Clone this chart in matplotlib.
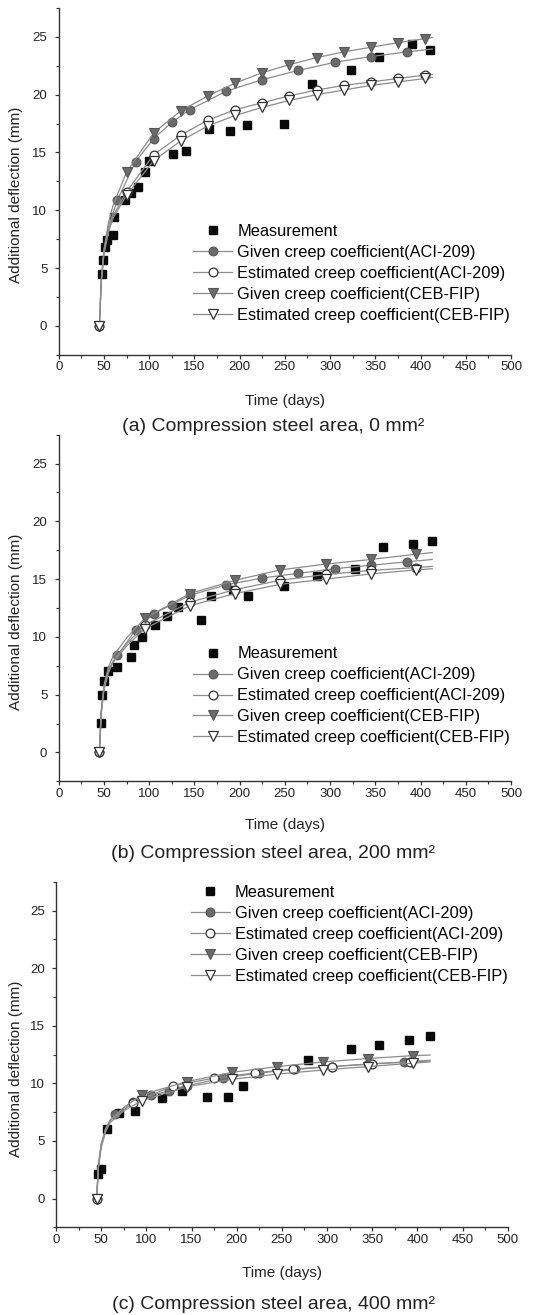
import matplotlib
matplotlib.use("Agg")
import matplotlib.pyplot as plt
from matplotlib.ticker import MultipleLocator

plt.rcParams['font.family'] = ['Liberation Sans', 'DejaVu Sans']

# ---------------- data ----------------
labels = ["Measurement",
          "Given creep coefficient(ACI-209)",
          "Estimated creep coefficient(ACI-209)",
          "Given creep coefficient(CEB-FIP)",
          "Estimated creep coefficient(CEB-FIP)"]
captions = ["(a) Compression steel area, 0 mm²",
            "(b) Compression steel area, 200 mm²",
            "(c) Compression steel area, 400 mm²"]
x_label = "Time (days)"
y_label = "Additional deflection (mm)"
x_ticks = [0, 50, 100, 150, 200, 250, 300, 350, 400, 450, 500]
y_ticks = [0, 5, 10, 15, 20, 25]

# Panel (a)
meas_a_x = [48, 49, 51, 53, 60, 61, 73, 80, 88, 95, 100, 126, 141, 166, 189, 208, 249, 280, 323, 354, 391, 411]
meas_a_y = [4.5, 5.7, 6.8, 7.4, 7.9, 9.4, 10.9, 11.5, 12.0, 13.3, 14.3, 14.9, 15.1, 17.0, 16.9, 17.4, 17.5, 20.9, 22.1, 23.3, 24.4, 23.9]
gaci_a_x = [45, 47, 50, 55, 65, 85, 105, 125, 145, 185, 225, 265, 305, 345, 385, 413]
gaci_a_y = [0, 3.8, 6.5, 8.6, 10.9, 14.2, 16.2, 17.6, 18.7, 20.3, 21.3, 22.1, 22.8, 23.3, 23.7, 23.95]
gaci_a_mk = [0, 4, 5, 6, 7, 8, 9, 10, 11, 12, 13, 14]
eaci_a_x = [45, 47, 50, 55, 60, 75, 105, 135, 165, 195, 225, 255, 285, 315, 345, 375, 405, 413]
eaci_a_y = [0, 3.8, 6.3, 8.3, 9.5, 11.6, 14.8, 16.5, 17.8, 18.7, 19.3, 19.9, 20.4, 20.8, 21.1, 21.4, 21.7, 21.75]
gceb_a_x = [45, 47, 50, 55, 60, 75, 105, 135, 165, 195, 225, 255, 285, 315, 345, 375, 405, 413]
gceb_a_y = [0, 4.0, 6.6, 8.9, 10.4, 13.3, 16.7, 18.6, 19.9, 21.0, 21.9, 22.6, 23.2, 23.7, 24.1, 24.5, 24.85, 24.95]
eceb_a_x = [45, 47, 50, 55, 60, 75, 105, 135, 165, 195, 225, 255, 285, 315, 345, 375, 405, 413]
eceb_a_y = [0, 3.7, 6.2, 8.1, 9.3, 11.3, 14.3, 16.0, 17.3, 18.2, 18.9, 19.5, 20.0, 20.4, 20.8, 21.1, 21.4, 21.5]
ceb_a_mk = [0, 5, 6, 7, 8, 9, 10, 11, 12, 13, 14, 15, 16]

# Panel (b)
meas_b_x = [47, 48, 50, 55, 65, 80, 83, 92, 106, 120, 132, 157, 168, 193, 209, 249, 285, 327, 358, 392, 413]
meas_b_y = [2.55, 5.0, 6.2, 7.05, 7.35, 8.3, 9.3, 9.95, 11.05, 11.8, 12.55, 11.5, 13.55, 14.1, 13.5, 14.4, 15.3, 15.9, 17.8, 18.05, 18.3]
gaci_b_x = [45, 47, 50, 55, 65, 85, 105, 125, 145, 185, 225, 265, 305, 345, 385, 413]
gaci_b_y = [0, 3.5, 5.6, 7.2, 8.4, 10.6, 12.0, 12.8, 13.6, 14.5, 15.1, 15.5, 15.9, 16.2, 16.5, 16.7]
gaci_b_mk = [0, 4, 5, 6, 7, 8, 9, 10, 11, 12, 13, 14]
eaci_b_x = [45, 47, 50, 55, 60, 75, 95, 145, 195, 245, 295, 345, 395, 413]
eaci_b_y = [0, 3.4, 5.5, 7.0, 7.9, 9.4, 11.0, 13.0, 14.1, 14.9, 15.4, 15.75, 16.0, 16.1]
gceb_b_x = [45, 47, 50, 55, 60, 75, 95, 145, 195, 245, 295, 345, 395, 413]
gceb_b_y = [0, 3.6, 5.8, 7.4, 8.3, 9.9, 11.6, 13.75, 14.9, 15.8, 16.3, 16.7, 17.15, 17.3]
eceb_b_x = [45, 47, 50, 55, 60, 75, 95, 145, 195, 245, 295, 345, 395, 413]
eceb_b_y = [0, 3.3, 5.4, 6.9, 7.8, 9.2, 10.7, 12.7, 13.75, 14.55, 15.0, 15.45, 15.8, 15.9]
ceb_b_mk = [0, 6, 7, 8, 9, 10, 11, 12]

# Panel (c)
meas_c_x = [46, 50, 56, 70, 88, 117, 140, 167, 190, 207, 279, 327, 357, 391, 414]
meas_c_y = [2.1, 2.6, 6.0, 7.45, 7.6, 8.75, 9.3, 8.85, 8.85, 9.8, 12.0, 13.0, 13.35, 13.8, 14.1]
gaci_c_x = [45, 47, 50, 55, 65, 85, 105, 125, 145, 185, 225, 265, 305, 345, 385, 414]
gaci_c_y = [0, 2.9, 4.7, 6.1, 7.3, 8.4, 8.95, 9.35, 9.8, 10.45, 10.9, 11.2, 11.45, 11.65, 11.85, 12.0]
gaci_c_mk = [0, 4, 5, 6, 7, 8, 9, 10, 11, 12, 13, 14]
eaci_c_x = [45, 47, 50, 55, 60, 85, 130, 175, 220, 262, 305, 350, 392, 414]
eaci_c_y = [0, 2.9, 4.7, 6.0, 6.8, 8.3, 9.8, 10.45, 10.9, 11.25, 11.45, 11.7, 11.85, 11.95]
eaci_c_mk = [0, 5, 6, 7, 8, 9, 10, 11, 12]
gceb_c_x = [45, 47, 50, 55, 60, 75, 95, 145, 195, 245, 295, 345, 395, 414]
gceb_c_y = [0, 2.8, 4.6, 6.0, 6.8, 7.9, 9.0, 10.15, 10.95, 11.45, 11.85, 12.15, 12.4, 12.45]
eceb_c_x = [45, 47, 50, 55, 60, 75, 95, 145, 195, 245, 295, 345, 395, 414]
eceb_c_y = [0, 2.7, 4.4, 5.8, 6.6, 7.6, 8.5, 9.7, 10.35, 10.8, 11.15, 11.45, 11.75, 11.85]
ceb_c_mk = [0, 6, 7, 8, 9, 10, 11, 12]

panels = [
    dict(meas=(meas_a_x, meas_a_y), gaci=(gaci_a_x, gaci_a_y, gaci_a_mk),
         eaci=(eaci_a_x, eaci_a_y, ceb_a_mk), gceb=(gceb_a_x, gceb_a_y, ceb_a_mk),
         eceb=(eceb_a_x, eceb_a_y, ceb_a_mk)),
    dict(meas=(meas_b_x, meas_b_y), gaci=(gaci_b_x, gaci_b_y, gaci_b_mk),
         eaci=(eaci_b_x, eaci_b_y, ceb_b_mk), gceb=(gceb_b_x, gceb_b_y, ceb_b_mk),
         eceb=(eceb_b_x, eceb_b_y, ceb_b_mk)),
    dict(meas=(meas_c_x, meas_c_y), gaci=(gaci_c_x, gaci_c_y, gaci_c_mk),
         eaci=(eaci_c_x, eaci_c_y, eaci_c_mk), gceb=(gceb_c_x, gceb_c_y, ceb_c_mk),
         eceb=(eceb_c_x, eceb_c_y, ceb_c_mk)),
]

# ---------------- layout ----------------
W, H = 546, 1315
fig = plt.figure(figsize=(W / 100, H / 100), dpi=100)

axes_px = [  # left, right, top, bottom (pixels)
    (58.7, 511.0, 8.0, 354.7),
    (58.7, 511.0, 434.7, 781.3),
    (56.0, 507.7, 881.7, 1227.3),
]
xlabel_top = [394, 818.5, 1266]
caption_base = [431, 858, 1309]
legend_px = [(193, 224), (193, 646.5), (190.7, 885)]

line_c = '#8c8c8c'
dark = '#333333'
fill_c = '#6b6b6b'

for i, (p, (l, r, t, b)) in enumerate(zip(panels, axes_px)):
    ax = fig.add_axes([l / W, 1 - b / H, (r - l) / W, (b - t) / H])
    lw = 0.9
    mx, my = p['meas']
    ax.plot(mx, my, linestyle='none', marker='s', ms=6.2, mfc='#0a0a0a',
            mec='#0a0a0a', label=labels[0], zorder=3)
    x, y, mk = p['gaci']
    ax.plot(x, y, color=line_c, lw=lw, marker='o', ms=6.3, mfc=fill_c,
            mec='#555555', mew=0.8, markevery=mk, label=labels[1], zorder=4)
    x, y, mk = p['eaci']
    ax.plot(x, y, color=line_c, lw=lw, marker='o', ms=6.3, mfc='white',
            mec=dark, mew=0.9, markevery=mk, label=labels[2], zorder=5)
    x, y, mk = p['gceb']
    ax.plot(x, y, color=line_c, lw=lw, marker='v', ms=7.0, mfc=fill_c,
            mec='#555555', mew=0.8, markevery=mk, label=labels[3], zorder=6)
    x, y, mk = p['eceb']
    ax.plot(x, y, color=line_c, lw=lw, marker='v', ms=7.0, mfc='white',
            mec=dark, mew=0.9, markevery=mk, label=labels[4], zorder=7)

    ax.set_xlim(0, 500)
    ax.set_ylim(-2.5, 27.5)
    ax.set_xticks(x_ticks)
    ax.set_yticks(y_ticks)
    ax.xaxis.set_minor_locator(MultipleLocator(25))
    ax.yaxis.set_minor_locator(MultipleLocator(2.5))
    for s in ['top', 'right']:
        ax.spines[s].set_visible(False)
    for s in ['left', 'bottom']:
        ax.spines[s].set_color(dark)
        ax.spines[s].set_linewidth(1.0)
    ax.tick_params(which='major', direction='out', length=3.2, width=0.9,
                   color=dark, labelcolor='#222222', labelsize=9.5)
    ax.tick_params(which='minor', direction='out', length=2.0, width=0.8, color=dark)
    ax.tick_params(axis='x', which='major', pad=1.5)
    ax.tick_params(axis='y', which='major', pad=5)

    ax.set_xlabel(x_label, fontsize=11, color='#222222')
    ax.xaxis.set_label_coords(0.5, (b - xlabel_top[i]) / (b - t))
    ax.set_ylabel(y_label, fontsize=11, color='#222222')
    ax.yaxis.set_label_coords((23 - l) / (r - l), 0.46)

    lx, ly = legend_px[i]
    ax.legend(loc='upper left', bbox_to_anchor=((lx - l) / (r - l), (b - ly) / (b - t)),
              frameon=False, borderpad=0, borderaxespad=0, handlelength=2.4,
              handletextpad=0.3, labelspacing=0.36, fontsize=11.8, numpoints=1)

    fig.text(0.5, 1 - caption_base[i] / H, captions[i], ha='center', va='baseline',
             fontsize=14, color='#222222')

fig.savefig('out.png', dpi=100)
